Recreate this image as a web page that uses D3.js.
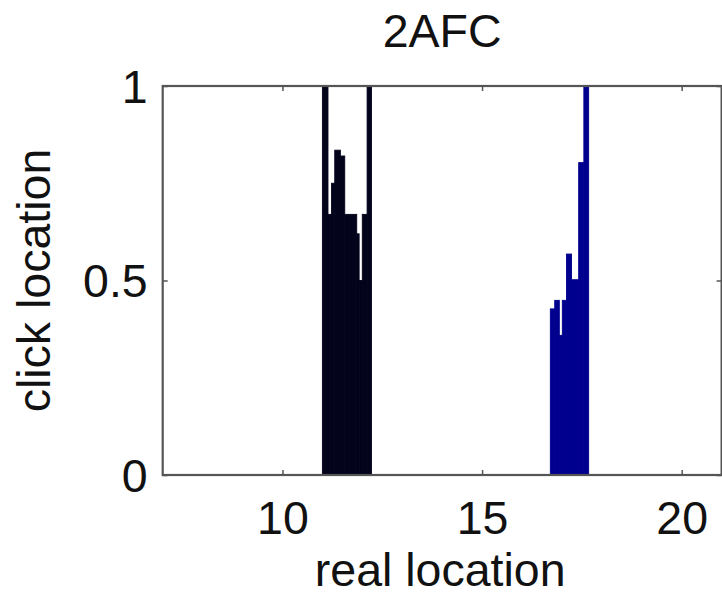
<!DOCTYPE html>
<html>
<head>
<meta charset="utf-8">
<script src="https://cdn.jsdelivr.net/npm/d3@7"></script>
<style>
  html, body { margin: 0; padding: 0; background: #fff; }
  svg { display: block; }
  text { font-family: "Liberation Sans", Arial, Helvetica, sans-serif; fill: #111; }
</style>
</head>
<body>
<svg id="chart" width="722" height="597"></svg>
<script>
// ---- data ----
const title = "2AFC";
const xLabel = "real location";
const yLabel = "click location";
const xTicks = [10, 15, 20];
const yTicks = [0, 0.5, 1];
const yTickLabels = ["0", "0.5", "1"];

// bin edges (real location) and values (click location) for each group
const blackEdges  = [11.0, 11.14, 11.23, 11.31, 11.45, 11.56, 11.86, 11.92, 12.0, 12.12, 12.23];
const blackValues = [1.0, 0.67, 0.75, 0.835, 0.82, 0.67, 0.62, 0.5, 0.67, 1.0];

const blueEdges  = [16.71, 16.82, 16.935, 17.01, 17.115, 17.24, 17.42, 17.55, 17.67];
const blueValues = [0.427, 0.449, 0.359, 0.449, 0.568, 0.502, 0.803, 1.0];

// ---- layout ----
const svg = d3.select("#chart");
const L = 162.7, R = 721.6, T = 86, B = 475;
const x = d3.scaleLinear().domain([7, 21]).range([L, R]);
const y = d3.scaleLinear().domain([0, 1]).range([B, T]);
const axisColor = "#555";
const fs = 46.5;

function makeBins(edges, values) {
  return values.map((v, i) => ({ x0: edges[i], x1: edges[i + 1], v }));
}

const groups = [
  { bins: makeBins(blackEdges, blackValues), color: "#03031c" },
  { bins: makeBins(blueEdges, blueValues), color: "#00008e" }
];

groups.forEach(g => {
  svg.append("g").selectAll("rect").data(g.bins).join("rect")
    .attr("x", d => x(d.x0))
    .attr("width", d => x(d.x1) - x(d.x0))
    .attr("y", d => y(d.v))
    .attr("height", d => y(0) - y(d.v))
    .attr("fill", g.color)
    .attr("stroke", g.color)
    .attr("stroke-width", 0.9);
});

// axes (ticks inward, on all four sides)
const tickLen = 5;
function styleAxis(sel) {
  sel.selectAll(".domain").remove();
  sel.selectAll(".tick line").attr("stroke", axisColor).attr("stroke-width", 1.5);
}

const xb = svg.append("g").attr("transform", `translate(0,${B})`)
  .call(d3.axisBottom(x).tickValues(xTicks).tickSize(-tickLen).tickFormat(d3.format("d")));
styleAxis(xb);
xb.selectAll(".tick text")
  .attr("y", 59).attr("dy", 0)
  .attr("font-size", fs).attr("fill", "#111")
  .attr("font-family", "Liberation Sans, Arial, sans-serif");

const xt = svg.append("g").attr("transform", `translate(0,${T})`)
  .call(d3.axisTop(x).tickValues(xTicks).tickSize(-tickLen).tickFormat(""));
styleAxis(xt);

const yl = svg.append("g").attr("transform", `translate(${L},0)`)
  .call(d3.axisLeft(y).tickValues(yTicks).tickSize(-tickLen).tickFormat((d, i) => yTickLabels[i]));
styleAxis(yl);
yl.selectAll(".tick text")
  .attr("x", -15).attr("dy", "0.35em")
  .attr("font-size", fs).attr("fill", "#111")
  .attr("font-family", "Liberation Sans, Arial, sans-serif");

const yr = svg.append("g").attr("transform", `translate(${R},0)`)
  .call(d3.axisRight(y).tickValues(yTicks).tickSize(-tickLen).tickFormat(""));
styleAxis(yr);

// box
svg.append("rect")
  .attr("x", L).attr("y", T)
  .attr("width", R - L).attr("height", B - T)
  .attr("fill", "none").attr("stroke", axisColor).attr("stroke-width", 2.2);

// labels
svg.append("text").attr("x", (L + R) / 2).attr("y", 47)
  .attr("text-anchor", "middle").attr("font-size", fs).text(title);

svg.append("text").attr("x", (L + R) / 2 - 2).attr("y", 586)
  .attr("text-anchor", "middle").attr("font-size", fs).text(xLabel);

svg.append("text")
  .attr("transform", `translate(50,${(T + B) / 2}) rotate(-90)`)
  .attr("text-anchor", "middle").attr("font-size", fs).text(yLabel);
</script>
</body>
</html>
